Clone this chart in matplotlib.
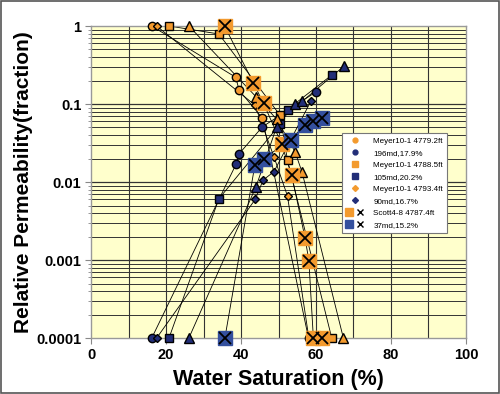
import matplotlib
matplotlib.use("Agg")
import matplotlib.pyplot as plt
from matplotlib.lines import Line2D
from matplotlib.legend_handler import HandlerTuple
from matplotlib.patches import Rectangle
import numpy as np

# ---- data ----
circ_kro_sw = [16.2, 38.6, 39.5, 45.7, 58.0]
circ_kro = [1.0, 0.22, 0.15, 0.066, 0.0001]
circ_krw_sw = [16.2, 38.7, 39.5, 45.7, 60.0]
circ_krw = [0.0001, 0.017, 0.023, 0.051, 0.143]

sq_kro_sw = [20.8, 34.1, 50.4, 52.4, 64.2]
sq_kro = [1.0, 0.79, 0.072, 0.019, 0.0001]
sq_krw_sw = [20.8, 34.1, 50.4, 52.4, 64.2]
sq_krw = [0.0001, 0.0061, 0.055, 0.085, 0.235]

dia_kro_sw = [17.5, 43.7, 48.8, 52.4, 58.1]
dia_kro = [1.0, 0.097, 0.021, 0.0066, 0.0001]
dia_krw_sw = [17.5, 43.8, 45.9, 48.8, 58.7]
dia_krw = [0.0001, 0.006, 0.0106, 0.0136, 0.11]

xs_kro_sw = [35.6, 43.3, 46.0, 50.8, 53.5, 57.1, 58.1, 59.3, 61.5]
xs_kro = [1.0, 0.187, 0.102, 0.031, 0.0123, 0.0019, 0.00098, 0.0001, 0.0001]
xs_krw_sw = [35.7, 43.7, 46.1, 53.2, 57.1, 59.3, 61.5]
xs_krw = [0.0001, 0.0165, 0.020, 0.035, 0.054, 0.061, 0.066]

tri_kro_sw = [26.1, 44.0, 49.5, 54.4, 56.3, 67.3]
tri_kro = [1.0, 0.124, 0.064, 0.0245, 0.0133, 0.0001]
tri_krw_sw = [26.1, 44.0, 49.5, 54.4, 56.3, 67.5]
tri_krw = [0.0001, 0.0087, 0.051, 0.1, 0.108, 0.307]

labels = ["Meyer10-1 4779.2ft", "196md,17.9%", "Meyer10-1 4788.5ft", "105md,20.2%",
          "Meyer10-1 4793.4ft", "90md,16.7%", "Scott4-8 4787.4ft", "37md,15.2%"]
x_ticks = [0, 20, 40, 60, 80, 100]
y_ticks = [0.0001, 0.001, 0.01, 0.1, 1]
y_ticklabels = ["0.0001", "0.001", "0.01", "0.1", "1"]

ORANGE = "#F39A2E"
NAVY = "#222E78"
BLUE = "#34509E"

plt.rcParams['font.family'] = ['Liberation Sans', 'DejaVu Sans']

fig = plt.figure(figsize=(5.0, 3.94), dpi=100)
fig.patch.set_facecolor("white")
fig.add_artist(Rectangle((0.002, 0.003), 0.995, 0.994, transform=fig.transFigure,
                         fill=False, edgecolor="#555555", lw=1.2))
ax = fig.add_axes([0.182, 0.142, 0.75, 0.792])
ax.set_facecolor("#FFFFCC")
ax.set_yscale("log")
ax.set_xlim(0, 100)
ax.set_ylim(0.0001, 1)

# grid
for xv in range(10, 100, 10):
    ax.axvline(xv, color="#333333", lw=0.8, zorder=0.5)
for dec in [1e-4, 1e-3, 1e-2, 1e-1]:
    for m in range(2, 10):
        ax.axhline(dec * m, color="#333333", lw=0.7, zorder=0.5)
    if dec > 1e-4:
        ax.axhline(dec, color="#333333", lw=0.9, zorder=0.5)

lkw = dict(color="black", lw=0.6, zorder=2, clip_on=False)

def series(sw, kr, marker, fc, ms, ec="black"):
    ax.plot(sw, kr, **lkw)
    ax.plot(sw, kr, linestyle="none", marker=marker, markerfacecolor=fc,
            markeredgecolor=ec, markersize=ms, markeredgewidth=1.0, zorder=3,
            clip_on=False)

series(circ_kro_sw, circ_kro, "o", ORANGE, 6)
series(circ_krw_sw, circ_krw, "o", NAVY, 6)
series(sq_kro_sw, sq_kro, "s", ORANGE, 5.5)
series(sq_krw_sw, sq_krw, "s", NAVY, 5.5)
series(dia_kro_sw, dia_kro, "D", ORANGE, 4.5)
series(dia_krw_sw, dia_krw, "D", NAVY, 4.5)
series(tri_kro_sw, tri_kro, "^", ORANGE, 6.5)
series(tri_krw_sw, tri_krw, "^", NAVY, 6.5)
# X-square series
series(xs_kro_sw, xs_kro, "s", ORANGE, 10, ec=ORANGE)
ax.plot(xs_kro_sw, xs_kro, linestyle="none", marker="x", color="black",
        markersize=8, markeredgewidth=1.3, zorder=4, clip_on=False)
series(xs_krw_sw, xs_krw, "s", BLUE, 10, ec=BLUE)
ax.plot(xs_krw_sw, xs_krw, linestyle="none", marker="x", color="black",
        markersize=8, markeredgewidth=1.3, zorder=4, clip_on=False)

ax.set_xticks(x_ticks)
ax.set_xticklabels([str(v) for v in x_ticks], fontsize=10.5, fontweight="bold")
ax.set_yticks(y_ticks)
ax.set_yticklabels(y_ticklabels, fontsize=10.5, fontweight="bold")
ax.yaxis.set_minor_locator(matplotlib.ticker.LogLocator(subs=np.arange(2, 10)))
ax.yaxis.set_minor_formatter(matplotlib.ticker.NullFormatter())
ax.tick_params(axis="both", which="major", length=4, color="#888888", pad=3)
ax.tick_params(axis="y", which="minor", length=2, color="#888888")
for s in ax.spines.values():
    s.set_color("#999999")
    s.set_linewidth(1.0)

ax.set_xlabel("Water Saturation (%)", fontsize=15.5, fontweight="bold", labelpad=5)
ax.set_ylabel("Relative Permeability(fraction)", fontsize=15, fontweight="bold", labelpad=2)

def mk(marker, fc, ms, ec="black"):
    return Line2D([], [], linestyle="none", marker=marker, markerfacecolor=fc,
                  markeredgecolor=ec, markersize=ms)

xo = Line2D([], [], linestyle="none", marker="x", color="black", markersize=5, markeredgewidth=1.0)
handles = [mk("o", ORANGE, 3.5, ORANGE), mk("o", NAVY, 3.5, NAVY),
           mk("s", ORANGE, 4, ORANGE), mk("s", NAVY, 4, NAVY),
           mk("D", ORANGE, 3, ORANGE), mk("D", NAVY, 3, NAVY),
           (mk("s", ORANGE, 6, ORANGE), xo), (mk("s", BLUE, 6, BLUE), xo)]
leg = ax.legend(handles, labels, loc="upper left", bbox_to_anchor=(0.669, 0.657),
                borderaxespad=0, fontsize=5.8, frameon=True, fancybox=False,
                framealpha=1, edgecolor="#777777", handlelength=2.2,
                handletextpad=1.2, labelspacing=0.55, borderpad=0.5,
                handler_map={tuple: HandlerTuple(ndivide=None)})
leg.get_frame().set_linewidth(0.8)
leg.set_zorder(10)

fig.savefig("out.png", dpi=100)
